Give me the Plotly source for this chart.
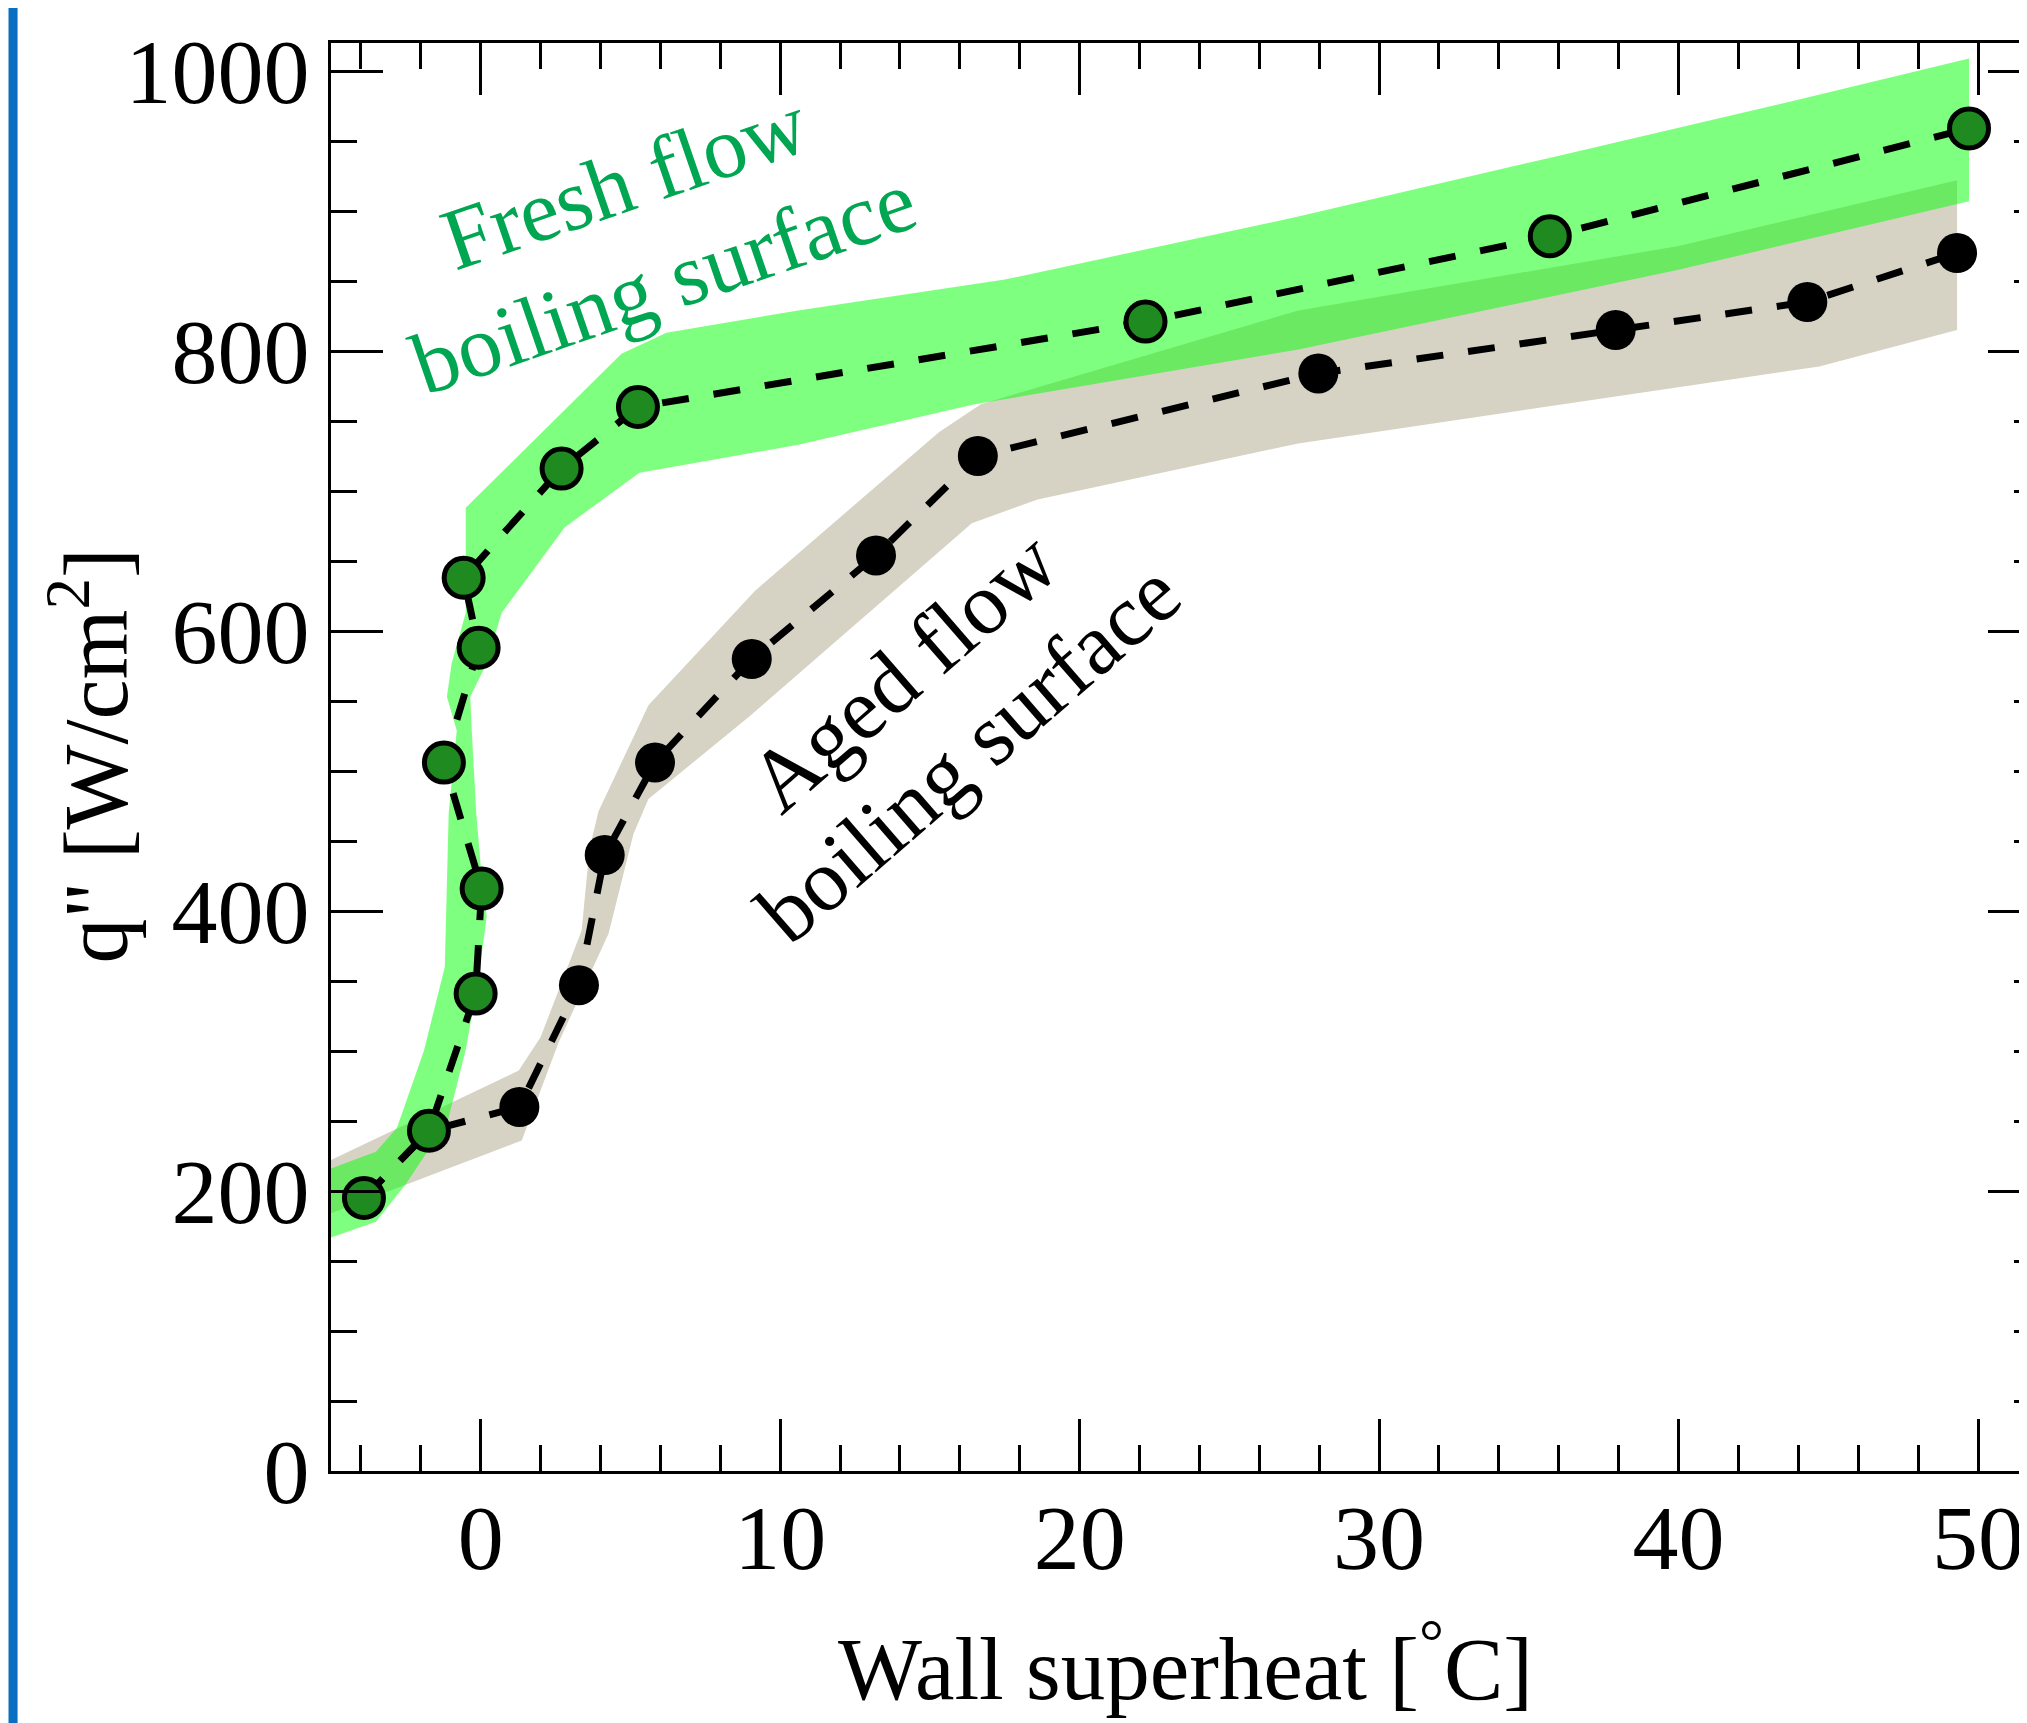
import plotly.graph_objects as go

# ---- data ----
fresh_x = [-3.9, -1.73, -0.17, 0.03, -1.23, -0.07, -0.57, 2.7, 5.25, 22.2, 35.7, 49.7]
fresh_y = [195, 243, 341, 416, 506, 588, 638, 716, 760, 821, 882, 959]

aged_x = [-3.9, -1.73, 1.29, 3.28, 4.14, 5.82, 9.05, 13.2, 16.6, 27.97, 37.9, 44.3, 49.3]
aged_y = [195, 243, 260, 347, 440, 506, 580, 654, 725, 784, 815, 835, 870]

# uncertainty bands (outer boundary)
fresh_upper_x = [-5.5, -3.5, -2.8, -1.9, -1.2, -1.13, -1.07, -0.8, -1.13, -0.97, -0.5, -0.5, 2.83, 4.7, 6.2, 10.6, 17.5, 27.3, 35.9, 44.3, 49.7]
fresh_upper_y = [212, 228, 245, 300, 360, 420, 470, 529, 553, 577, 613, 688, 758, 798, 813, 829, 851, 896, 939, 981, 1009]
fresh_lower_x = [-5.5, -3.5, -2.5, -1.1, -0.5, -0.1, 0.2, 0.05, -0.15, -0.3, -0.35, 0.2, 0.7, 2.8, 5.3, 10.6, 16.5, 27.3, 40.0, 49.7]
fresh_lower_y = [163, 178, 205, 250, 301, 348, 396, 420, 470, 529, 553, 577, 613, 674, 713, 733, 762, 801, 858, 907]

aged_upper_x = [-5.5, 1.27, 2.0, 3.37, 3.63, 3.93, 5.6, 9.17, 15.3, 16.7, 27.3, 40.0, 49.3]
aged_upper_y = [217, 286, 310, 386, 444, 471, 547, 629, 742, 762, 829, 875, 922]
aged_lower_x = [-5.5, 1.37, 2.6, 4.27, 5.1, 5.6, 9.03, 14.2, 16.4, 18.6, 27.3, 44.7, 49.3]
aged_lower_y = [180, 236, 306, 384, 455, 480, 540, 636, 677, 694, 734, 789, 815]

x_ticks = [0, 10, 20, 30, 40, 50]
y_ticks = [0, 200, 400, 600, 800, 1000]

SERIF = "Liberation Serif, Times New Roman, serif"
GREEN_TXT = "#00A651"

fig = go.Figure()

# bands
fig.add_trace(go.Scatter(
    x=aged_upper_x + aged_lower_x[::-1], y=aged_upper_y + aged_lower_y[::-1],
    fill="toself", fillcolor="rgb(214,211,197)", mode="lines", line=dict(width=0),
    hoverinfo="skip", showlegend=False))
fig.add_trace(go.Scatter(
    x=fresh_upper_x + fresh_lower_x[::-1], y=fresh_upper_y + fresh_lower_y[::-1],
    fill="toself", fillcolor="rgba(0,255,0,0.5)", mode="lines", line=dict(width=0),
    hoverinfo="skip", showlegend=False))

# data series
fig.add_trace(go.Scatter(
    x=aged_x, y=aged_y, mode="lines+markers", name="Aged",
    line=dict(color="black", width=7, dash="27px,25px"),
    marker=dict(color="black", size=40, line=dict(width=0)),
    showlegend=False))
fig.add_trace(go.Scatter(
    x=fresh_x, y=fresh_y, mode="lines+markers", name="Fresh",
    line=dict(color="black", width=7, dash="27px,25px"),
    marker=dict(color="#1F8A1F", size=39, line=dict(color="black", width=5)),
    showlegend=False))

axis_common = dict(
    ticks="inside", ticklen=52, tickwidth=3, tickcolor="black",
    showline=True, linewidth=3, linecolor="black", mirror="ticks",
    showgrid=False, zeroline=False,
    tickfont=dict(family=SERIF, size=92, color="black"),
)

fig.update_xaxes(range=[-5, 52.07], tickvals=x_ticks, ticklabelstandoff=-15,
                 minor=dict(dtick=2, tick0=0, ticks="inside", ticklen=26, tickwidth=3, tickcolor="black"),
                 **axis_common)
fig.update_yaxes(range=[0, 1020], tickvals=y_ticks, ticklabelstandoff=0,
                 minor=dict(dtick=50, tick0=0, ticks="inside", ticklen=26, tickwidth=3, tickcolor="black"),
                 **axis_common)

annots = [
    dict(text="Fresh flow", x=4.8, y=921, textangle=-19, color=GREEN_TXT),
    dict(text="boiling surface", x=6.1, y=849, textangle=-19, color=GREEN_TXT),
    dict(text="Aged flow", x=14.1, y=571, textangle=-41, color="black"),
    dict(text="boiling surface", x=16.3, y=513, textangle=-41, color="black"),
]
for a in annots:
    fig.add_annotation(x=a["x"], y=a["y"], xref="x", yref="y", text=a["text"],
                       textangle=a["textangle"], showarrow=False,
                       xanchor="center", yanchor="middle",
                       font=dict(family=SERIF, size=88, color=a["color"]))

# axis titles
fig.add_annotation(xref="paper", yref="paper", x=0.5, y=-0.1338,
                   text="Wall superheat [<sup>°</sup>C]", showarrow=False,
                   xanchor="center", yanchor="middle",
                   font=dict(family=SERIF, size=89, color="black"))
fig.add_annotation(xref="paper", yref="paper", x=-0.1410, y=0.501,
                   text='q" [W/cm<sup>2</sup>]', showarrow=False, textangle=-90,
                   xanchor="center", yanchor="middle",
                   font=dict(family=SERIF, size=90, color="black"))

# blue strip at left edge of the picture
fig.add_shape(type="rect", xref="paper", yref="paper",
              x0=-0.1887, x1=-0.1834, y0=-0.2, y1=1.05,
              fillcolor="#0A6FC2", line=dict(width=0), layer="above")

fig.update_layout(
    width=2035, height=1723,
    margin=dict(l=323, r=0, t=35, b=260),
    paper_bgcolor="white", plot_bgcolor="white",
    showlegend=False,
)

fig.write_html("out.html")
